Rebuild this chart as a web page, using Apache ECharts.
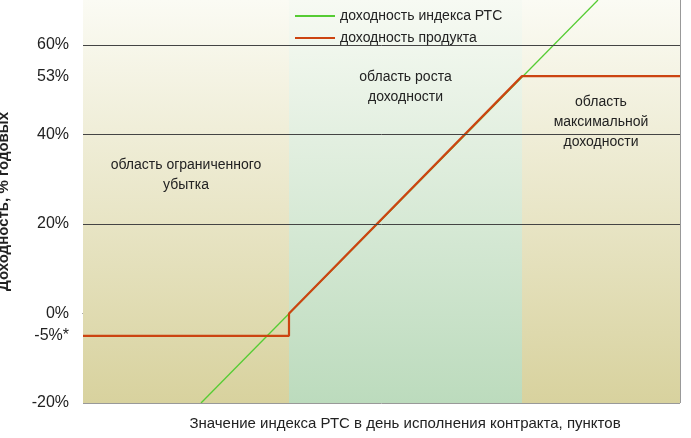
<!DOCTYPE html><html><head><meta charset="utf-8"><script src="https://cdn.jsdelivr.net/npm/echarts@6/dist/echarts.min.js"></script></head><body style="margin:0"><div id="c" style="width:691px;height:438px"></div><script>
const rtsLine=[[118,-20],[515,70]];
const product=[[0,-5],[206,-5],[206,0],[439,53],[597,53]];
const yLabels={'-20':'-20%','-5':'-5%*','0':'0%','20':'20%','40':'40%','53':'53%','60':'60%'};
const gridLevels=[20,40,60];
const regions=[[0,206,'область ограниченного\nубытка',155],[206,439,'область роста\nдоходности',67],[439,597,'область\nмаксимальной\nдоходности',92]];
const zones=[['#fbfbf4','#d8d29e'],['#f7faf3','#bcdbbd'],['#fbfbf4','#d8d29e']];
const font='"Liberation Sans", Arial, sans-serif';
const c=echarts.init(document.getElementById('c'));
c.setOption({
animation:false,
textStyle:{fontFamily:font},
title:{text:'Значение индекса РТС в день исполнения контракта, пунктов',left:400,textAlign:'center',bottom:2,textStyle:{fontSize:15,fontWeight:'normal',color:'#222',fontFamily:font}},
grid:{left:83,right:11,top:0,bottom:35,containLabel:false,outerBoundsMode:'none'},
legend:{orient:'vertical',left:290,top:4,itemGap:8,itemWidth:40,itemHeight:2,icon:'rect',textStyle:{fontSize:14,color:'#222',fontFamily:font},data:['доходность индекса РТС','доходность продукта']},
xAxis:{type:'value',min:0,max:597,interval:148.5,
 axisLine:{onZero:true,lineStyle:{color:'#333'}},axisTick:{show:true,length:7,lineStyle:{color:'#333',width:1}},axisLabel:{show:false},splitLine:{show:false}},
yAxis:{type:'value',min:-20,max:70,interval:1,name:'Доходность, % годовых',nameLocation:'middle',nameGap:72,nameTextStyle:{fontSize:15,fontWeight:'bold',color:'#222'},
 axisLine:{show:true,lineStyle:{color:'#999'}},axisTick:{show:false},splitLine:{show:false},
 axisLabel:{fontSize:16,color:'#222',margin:14,interval:0,formatter:v=>yLabels[String(v)]||''}},
series:[
{name:'zones',type:'line',data:[],silent:true,
 markArea:{silent:true,data:regions.map((r,i)=>[{xAxis:r[0],yAxis:-20,itemStyle:{color:new echarts.graphic.LinearGradient(0,0,0,1,[{offset:0,color:zones[i][0]},{offset:1,color:zones[i][1]}])},
  label:{show:true,position:'insideTop',distance:r[3],formatter:r[2],fontSize:14,color:'#222',lineHeight:20,align:'center'}},{xAxis:r[1],yAxis:70}])},
 markLine:{silent:true,symbol:'none',label:{show:false},lineStyle:{color:'#444',type:'solid',width:1},data:gridLevels.map(v=>({yAxis:v})).concat([{xAxis:597,lineStyle:{color:'#999'}},{yAxis:-20,lineStyle:{color:'#999'}}])}},
{name:'доходность индекса РТС',type:'line',data:rtsLine,symbol:'none',lineStyle:{color:'#55cc33',width:1.3},itemStyle:{color:'#55cc33'},z:3},
{name:'доходность продукта',type:'line',data:product,symbol:'none',lineStyle:{color:'#cc4411',width:2.2},itemStyle:{color:'#cc4411'},z:4}
]});
</script></body></html>
